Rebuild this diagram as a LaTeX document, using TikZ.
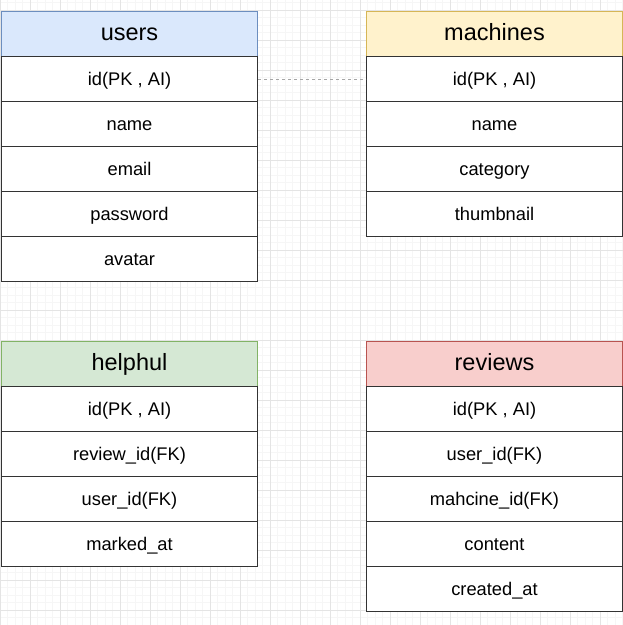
\documentclass[tikz,border=0pt]{standalone}
\usepackage{fontspec}
\setmainfont{Liberation Sans}
\definecolor{bluef}{HTML}{DAE8FC}\definecolor{blued}{HTML}{6C8EBF}
\definecolor{yelf}{HTML}{FFF2CC}\definecolor{yeld}{HTML}{D6B656}
\definecolor{grnf}{HTML}{D5E8D4}\definecolor{grnd}{HTML}{82B366}
\definecolor{redf}{HTML}{F8CECC}\definecolor{redd}{HTML}{B85450}
\definecolor{minorc}{HTML}{F6F6F6}\definecolor{majorc}{HTML}{E4E4E4}
\definecolor{rowd}{HTML}{333333}
\tikzset{
  hdr/.style={draw, line width=1pt, minimum width=256pt, minimum height=45pt, anchor=north west, inner sep=0pt, text height=12pt, text depth=0pt, font=\fontsize{23.5}{23.5}\selectfont},
  rowbox/.style={draw=rowd, fill=white, line width=1pt, minimum width=256pt, minimum height=45pt, anchor=north west, inner sep=0pt, text height=12.8pt, text depth=0pt, font=\fontsize{18.3}{18.3}\selectfont},
  minorline/.style={minorc, line width=0.8pt},
  majorline/.style={majorc, line width=1pt},
  link/.style={draw=black!35, dashed, line width=0.8pt}
}
\begin{document}
\begin{tikzpicture}[x=1pt,y=-1pt]
\useasboundingbox (0,0) rectangle (623,625);
\fill[white] (0,0) rectangle (623,625);
\foreach \x in {7.5,15,...,623} \draw[minorline] (\x,0) -- (\x,625);
\foreach \y in {2.5,10,...,625} \draw[minorline] (0,\y) -- (623,\y);
\foreach \x in {0,30,...,623} \draw[majorline] (\x,0) -- (\x,625);
\foreach \y in {10,40,...,625} \draw[majorline] (0,\y) -- (623,\y);
% users
\node[hdr, fill=bluef, draw=blued] (uh) at (1,11) {users};
\node[rowbox] (u1) at (1,56) {id(PK , AI)};
\node[rowbox] (u2) at (1,101) {name};
\node[rowbox] (u3) at (1,146) {email};
\node[rowbox] (u4) at (1,191) {password};
\node[rowbox] (u5) at (1,236) {avatar};
% machines
\node[hdr, fill=yelf, draw=yeld] (mh) at (366,11) {machines};
\node[rowbox] (m1) at (366,56) {id(PK , AI)};
\node[rowbox] (m2) at (366,101) {name};
\node[rowbox] (m3) at (366,146) {category};
\node[rowbox] (m4) at (366,191) {thumbnail};
% helphul
\node[hdr, fill=grnf, draw=grnd] (hh) at (1,341) {helphul};
\node[rowbox] (h1) at (1,386) {id(PK , AI)};
\node[rowbox] (h2) at (1,431) {review\_id(FK)};
\node[rowbox] (h3) at (1,476) {user\_id(FK)};
\node[rowbox] (h4) at (1,521) {marked\_at};
% reviews
\node[hdr, fill=redf, draw=redd] (rh) at (366,341) {reviews};
\node[rowbox] (r1) at (366,386) {id(PK , AI)};
\node[rowbox] (r2) at (366,431) {user\_id(FK)};
\node[rowbox] (r3) at (366,476) {mahcine\_id(FK)};
\node[rowbox] (r4) at (366,521) {content};
\node[rowbox] (r5) at (366,566) {created\_at};
% link
\draw[link] (u1.east) -- (m1.west);
\end{tikzpicture}
\end{document}
